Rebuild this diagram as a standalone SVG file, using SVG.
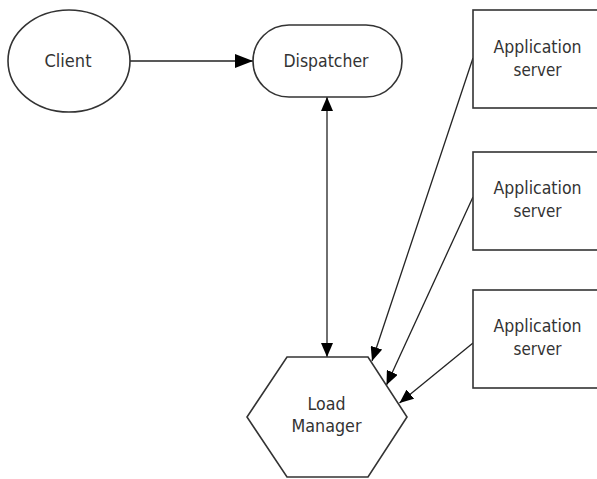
<svg xmlns="http://www.w3.org/2000/svg" width="597" height="479" viewBox="0 0 597 479">
<style>
.shape{fill:#fff;stroke:#333;stroke-width:1.6}
.lbl{font-family:"DejaVu Sans","Liberation Sans",sans-serif;font-size:18.5px;fill:#333;text-anchor:middle}
.conn{stroke:#222;stroke-width:1.3;fill:none}
</style>
<defs>
<marker id="ah" viewBox="0 0 14 12" refX="14" refY="6" markerWidth="14" markerHeight="12" markerUnits="userSpaceOnUse" orient="auto-start-reverse">
<path d="M0,0 L14,6 L0,12 Z" fill="#000"/>
</marker>
<marker id="ahL" viewBox="0 0 18 14" refX="18" refY="7" markerWidth="18" markerHeight="14" markerUnits="userSpaceOnUse" orient="auto">
<path d="M0,0 L18,7 L0,14 Z" fill="#000"/>
</marker>
</defs>
<rect width="597" height="479" fill="#fff"/>
<g id="connectors">
<line class="conn" x1="130" y1="61" x2="253" y2="61" marker-end="url(#ahL)"/>
<line class="conn" x1="327" y1="97" x2="327" y2="357" marker-start="url(#ah)" marker-end="url(#ah)"/>
<line class="conn" x1="473" y1="58" x2="372" y2="361" marker-end="url(#ah)"/>
<line class="conn" x1="473" y1="197" x2="386.5" y2="385" marker-end="url(#ah)"/>
<line class="conn" x1="473" y1="343" x2="399.5" y2="403" marker-end="url(#ah)"/>
</g>
<g id="client">
<ellipse class="shape" cx="69" cy="61" rx="61" ry="51"/>
<text class="lbl" x="68" y="67" textLength="47" lengthAdjust="spacingAndGlyphs">Client</text>
</g>
<g id="dispatcher">
<rect class="shape" x="253" y="25" width="149" height="72" rx="36" ry="36"/>
<text class="lbl" x="326" y="67" textLength="85" lengthAdjust="spacingAndGlyphs">Dispatcher</text>
</g>
<g id="appserver1">
<rect class="shape" x="473" y="10" width="130" height="98"/>
<text class="lbl" x="537.5" y="53" textLength="88" lengthAdjust="spacingAndGlyphs">Application</text>
<text class="lbl" x="537.5" y="76" textLength="48" lengthAdjust="spacingAndGlyphs">server</text>
</g>
<g id="appserver2">
<rect class="shape" x="473" y="152" width="130" height="98"/>
<text class="lbl" x="537.5" y="194" textLength="88" lengthAdjust="spacingAndGlyphs">Application</text>
<text class="lbl" x="537.5" y="217" textLength="48" lengthAdjust="spacingAndGlyphs">server</text>
</g>
<g id="appserver3">
<rect class="shape" x="473" y="290" width="130" height="98"/>
<text class="lbl" x="537.5" y="332" textLength="88" lengthAdjust="spacingAndGlyphs">Application</text>
<text class="lbl" x="537.5" y="355" textLength="48" lengthAdjust="spacingAndGlyphs">server</text>
</g>
<g id="loadmanager">
<polygon class="shape" points="287,357 368,357 407,417 368,477 287,477 247,417"/>
<text class="lbl" x="326.5" y="410" textLength="38" lengthAdjust="spacingAndGlyphs">Load</text>
<text class="lbl" x="326.5" y="432" textLength="70" lengthAdjust="spacingAndGlyphs">Manager</text>
</g>
</svg>
